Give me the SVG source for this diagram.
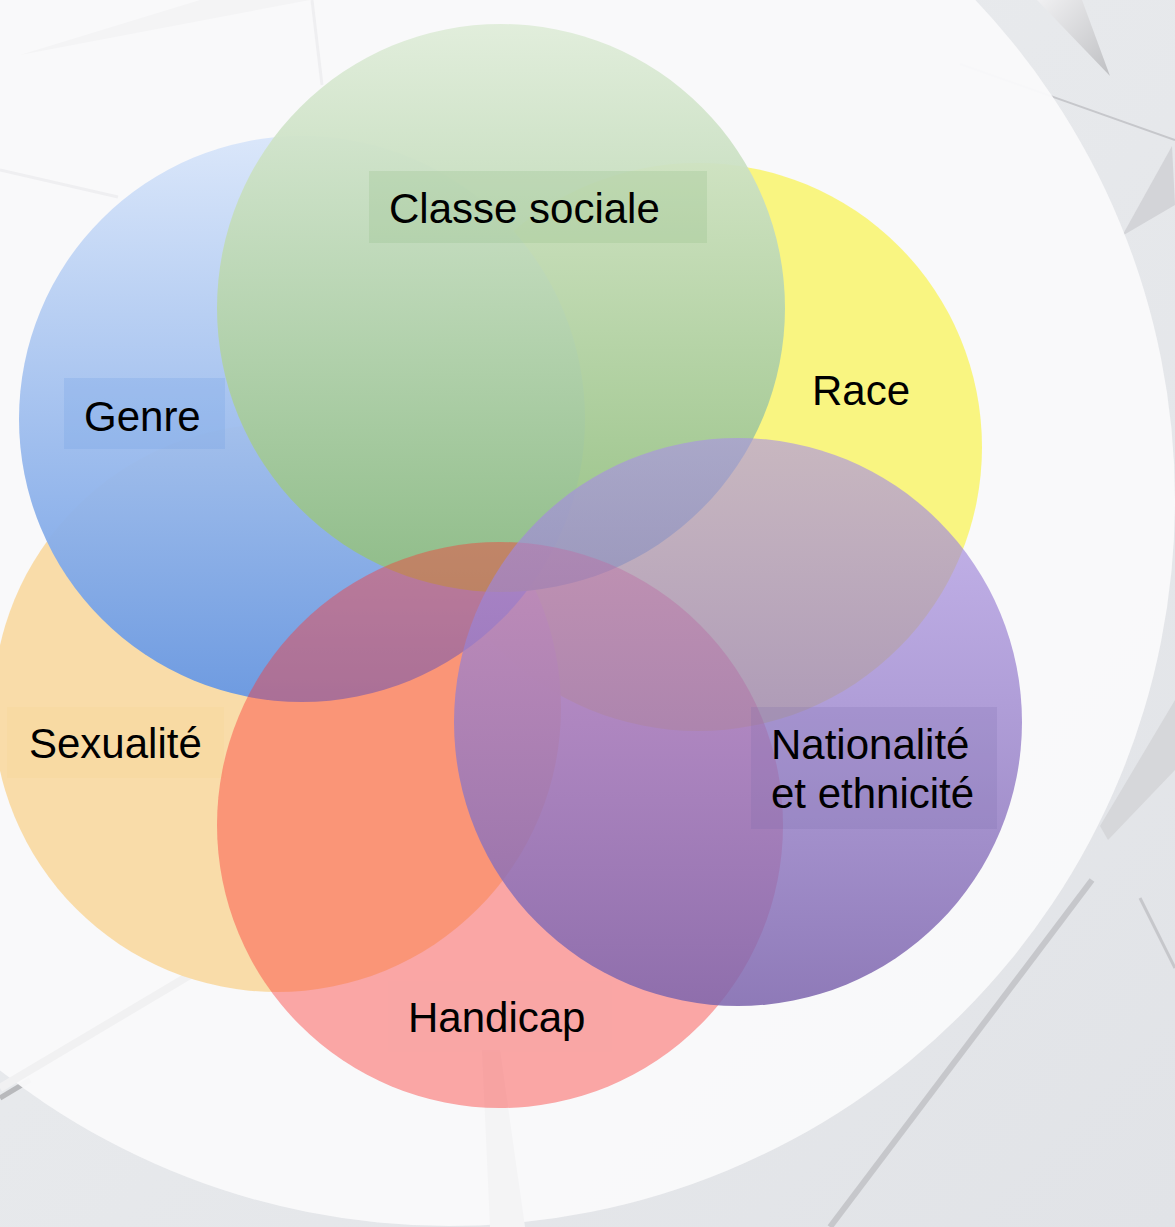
<svg xmlns="http://www.w3.org/2000/svg" width="1175" height="1227" viewBox="0 0 1175 1227">
  <style>
    .lbl { font-family: "Liberation Sans", Arial, sans-serif; font-size: 42px; fill: #000; }
    .facet { fill: #d3d4d8; }
    .fline { fill: none; stroke: #c6c7cb; }
    .faint { fill: none; stroke: #efeff1; stroke-width: 3; }
  </style>
  <defs>
    <linearGradient id="bg" x1="0" y1="0" x2="1" y2="1">
      <stop offset="0" stop-color="#eceef0"/>
      <stop offset="1" stop-color="#e1e3e7"/>
    </linearGradient>
    <linearGradient id="spike" x1="0" y1="0" x2="1" y2="1">
      <stop offset="0" stop-color="#f0f0f2"/>
      <stop offset="1" stop-color="#bfc0c3"/>
    </linearGradient>
    <linearGradient id="gBlue" x1="0" y1="0" x2="0" y2="1">
      <stop offset="0" stop-color="#d9e6fa"/>
      <stop offset="1" stop-color="#6898e3"/>
    </linearGradient>
    <linearGradient id="gGreen" x1="0" y1="0" x2="0" y2="1">
      <stop offset="0" stop-color="#e0edda"/>
      <stop offset="1" stop-color="#8fbd83"/>
    </linearGradient>
    <linearGradient id="gPurple" x1="0" y1="0" x2="0" y2="1">
      <stop offset="0" stop-color="#aa91e6" stop-opacity="0.62"/>
      <stop offset="1" stop-color="#7d65ad" stop-opacity="0.86"/>
    </linearGradient>
  </defs>

  <!-- background -->
  <g id="background">
    <rect x="0" y="0" width="1175" height="1227" fill="url(#bg)"/>
    <polygon points="1037,0 1082,0 1110,76" fill="url(#spike)"/>
    <line x1="960" y1="64" x2="1175" y2="140" class="fline" stroke-width="2"/>
    <polygon points="1172,146 1175,205 1122,236" class="facet"/>
    <polygon points="1175,700 1175,770 1108,840 1100,826" fill="#d6d7da"/>
    <line x1="1092" y1="880" x2="830" y2="1227" class="fline" stroke-width="6"/>
    <line x1="1140" y1="898" x2="1175" y2="968" class="fline" stroke-width="3"/>
    <line x1="0" y1="1098" x2="30" y2="1080" stroke="#b8b9bc" stroke-width="5"/>
    <circle cx="449" cy="500" r="726" fill="#f9f9fa" fill-opacity="0.97"/>
    <line x1="0" y1="170" x2="118" y2="197" class="faint"/>
    <polygon points="20,55 310,0 200,0" fill="#f4f4f5"/>
    <line x1="312" y1="0" x2="322" y2="85" class="faint"/>
    <line x1="0" y1="1088" x2="190" y2="975" stroke="#f1f1f2" stroke-width="8"/>
    <polygon points="482,1050 500,1050 525,1227 490,1227" fill="#f4f4f5"/>
  </g>

  <g id="node-race">
    <circle cx="698" cy="447" r="284" fill="#f9f47a" fill-opacity="0.95"/>
    <text class="lbl" x="812" y="405">Race</text>
  </g>

  <g id="node-sexualite">
    <circle cx="277" cy="708" r="284" fill="#f9dba6" fill-opacity="0.96"/>
    <rect x="7" y="707" width="217" height="71" fill="#f7d79c" fill-opacity="0.45"/>
    <text class="lbl" x="29" y="758">Sexualité</text>
  </g>

  <g id="node-genre">
    <circle cx="302" cy="419" r="283" fill="url(#gBlue)" fill-opacity="0.96"/>
    <rect x="64" y="378" width="161" height="71" fill="#6a99e3" fill-opacity="0.22"/>
    <text class="lbl" x="84" y="431">Genre</text>
  </g>

  <g id="node-classe-sociale">
    <circle cx="501" cy="308" r="284" fill="url(#gGreen)" fill-opacity="0.95"/>
    <rect x="369" y="171" width="338" height="72" fill="#8fbd83" fill-opacity="0.25"/>
    <text class="lbl" x="389" y="223">Classe sociale</text>
  </g>

  <g id="node-handicap">
    <circle cx="500" cy="825" r="283" fill="#fa3736" fill-opacity="0.43"/>
    <rect x="388" y="981" width="224" height="71" fill="#f9a6a6" fill-opacity="0.3"/>
    <text class="lbl" x="408" y="1032">Handicap</text>
  </g>

  <g id="node-nationalite">
    <circle cx="738" cy="722" r="284" fill="url(#gPurple)"/>
    <rect x="751" y="707" width="246" height="122" fill="#7a68aa" fill-opacity="0.2"/>
    <text class="lbl" x="771" y="759">Nationalité</text>
    <text class="lbl" x="771" y="808">et ethnicité</text>
  </g>

  <g id="connectors"/>
</svg>
